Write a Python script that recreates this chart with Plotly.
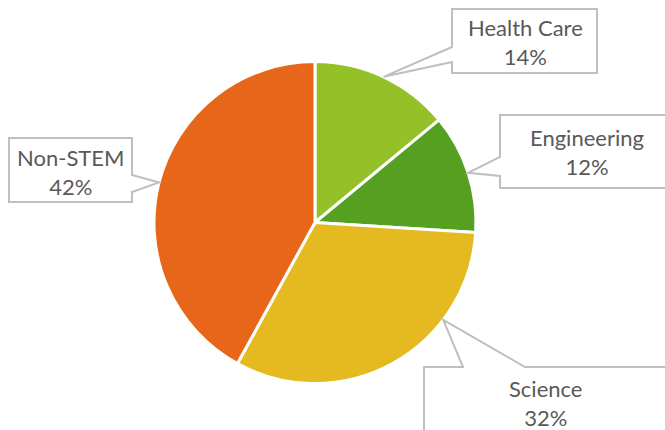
import math
import plotly.graph_objects as go

labels = ["Health Care", "Engineering", "Science", "Non-STEM"]
values = [14, 12, 32, 42]
colors = ["#93C127", "#55A021", "#E5B920", "#E8661A"]

W, H = 665, 430
cx, cy, R = 315, 222.5, 161

# callout boxes (pixels): box, side with the pointer, pointer base, tip nudge in degrees
callouts = {
    "Health Care": dict(box=(452, 9, 597, 73), side="left", base=(47, 62), shift=0, text=(525, 42)),
    "Engineering": dict(box=(500, 115, 690, 188), side="left", base=(157, 176), shift=0, text=(587, 152)),
    "Science": dict(box=(424, 367, 690, 450), side="top", base=(463, 525), shift=-24, text=(545, 403)),
    "Non-STEM": dict(box=(9, 138, 132, 202), side="right", base=(175, 192), shift=0, text=(70, 172)),
}


def px(x):
    return x / W


def py(y):
    return 1 - y / H


fig = go.Figure(go.Pie(
    labels=labels, values=values, sort=False, direction="clockwise", rotation=0,
    marker=dict(colors=colors, line=dict(color="white", width=3)),
    textinfo="none", hoverinfo="label+percent", showlegend=False,
    domain=dict(x=[px(cx - R), px(cx + R)], y=[py(cy + R), py(cy - R)]),
))

total = sum(values)
start = 0
shapes, annotations = [], []
for lab, v in zip(labels, values):
    ang = (start + v / 2) / total * 360
    start += v
    c = callouts[lab]
    a = math.radians(ang + c["shift"])
    tx, ty = cx + R * math.sin(a), cy - R * math.cos(a)
    x0, y0, x1, y1 = c["box"]
    b0, b1 = c["base"]
    if c["side"] == "left":
        pts = [(x0, y0), (x1, y0), (x1, y1), (x0, y1), (x0, b1), (tx, ty), (x0, b0)]
    elif c["side"] == "right":
        pts = [(x0, y0), (x1, y0), (x1, b0), (tx, ty), (x1, b1), (x1, y1), (x0, y1)]
    else:
        pts = [(x0, y0), (b0, y0), (tx, ty), (b1, y0), (x1, y0), (x1, y1), (x0, y1)]
    path = "M " + " L ".join(f"{px(x):.5f},{py(y):.5f}" for x, y in pts) + " Z"
    shapes.append(dict(type="path", xref="paper", yref="paper", path=path,
                       fillcolor="white", line=dict(color="#BFBFBF", width=2)))
    annotations.append(dict(
        xref="paper", yref="paper", x=px(c["text"][0]), y=py(c["text"][1]),
        xanchor="center", yanchor="middle",
        text=f"{lab}<br>{round(v / total * 100)}%", showarrow=False,
        font=dict(family="Lato", size=22, color="#595959"), align="center",
    ))

fig.update_layout(
    width=W, height=H, margin=dict(l=0, r=0, t=0, b=0),
    paper_bgcolor="white", plot_bgcolor="white",
    shapes=shapes, annotations=annotations,
)
fig.write_html("out.html", config={"displayModeBar": False},
               post_script="document.body.style.margin='0';")
